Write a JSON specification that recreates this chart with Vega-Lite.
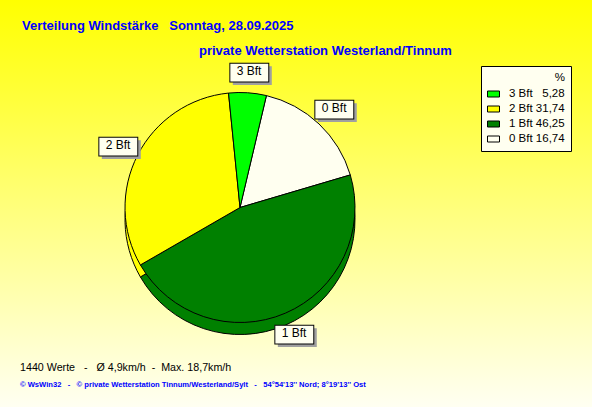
{
  "$schema": "https://vega.github.io/schema/vega-lite/v6.json",
  "padding": 0,
  "background": "#FFFF00",
  "config": {"view": {"stroke": null}, "concat": {"spacing": 0}},
  "title": {
    "text": "Verteilung Windstärke\u00a0\u00a0\u00a0Sonntag, 28.09.2025",
    "subtitle": "\u200b\u00a0\u00a0\u00a0\u00a0\u00a0\u00a0\u00a0\u00a0\u00a0\u00a0\u00a0\u00a0\u00a0\u00a0\u00a0\u00a0\u00a0\u00a0\u00a0\u00a0\u00a0\u00a0\u00a0\u00a0\u00a0\u00a0\u00a0\u00a0\u00a0\u00a0\u00a0\u00a0\u00a0\u00a0\u00a0\u00a0\u00a0\u00a0\u00a0\u00a0\u00a0\u00a0\u00a0\u00a0\u00a0\u00a0\u00a0\u00a0\u00a0private Wetterstation Westerland/Tinnum",
    "anchor": "start",
    "frame": "bounds",
    "dx": 22,
    "offset": -58,
    "font": "Liberation Sans",
    "fontSize": 13,
    "fontWeight": "bold",
    "color": "#0000FF",
    "subtitleFont": "Liberation Sans",
    "subtitleFontSize": 13,
    "subtitleFontWeight": "bold",
    "subtitleColor": "#0000FF",
    "subtitlePadding": 12
  },
  "vconcat": [
    {
      "width": 592,
      "height": 407,
      "view": {
        "stroke": null,
        "fill": {
          "gradient": "linear",
          "x1": 0, "y1": 0, "x2": 0, "y2": 1,
          "stops": [
            {"offset": 0, "color": "#FFFF00"},
            {"offset": 1, "color": "#FFFFF2"}
          ]
        }
      },
      "title": {
        "text": "1440 Werte\u00a0\u00a0\u00a0-\u00a0\u00a0\u00a0Ø 4,9km/h\u00a0\u00a0-\u00a0\u00a0Max. 18,7km/h",
        "subtitle": "© WsWin32\u00a0\u00a0\u00a0-\u00a0\u00a0\u00a0© private Wetterstation Tinnum/Westerland/Sylt\u00a0\u00a0\u00a0-\u00a0\u00a0\u00a054°54'13'' Nord; 8°19'13'' Ost",
        "orient": "bottom",
        "anchor": "start",
        "frame": "group",
        "dx": 20,
        "offset": -44,
        "font": "Liberation Sans",
        "fontSize": 10.7,
        "fontWeight": "normal",
        "color": "#000000",
        "subtitleFont": "Liberation Sans",
        "subtitleFontSize": 7.6,
        "subtitleFontWeight": "bold",
        "subtitleColor": "#0000FF",
        "subtitlePadding": 7
      },
      "data": {
        "values": [
          {"stufe": 0, "bft": "0 Bft", "prozent": 16.74, "legende": "0 Bft\u00a016,74"},
          {"stufe": 1, "bft": "1 Bft", "prozent": 46.25, "legende": "1 Bft\u00a046,25"},
          {"stufe": 2, "bft": "2 Bft", "prozent": 31.74, "legende": "2 Bft\u00a031,74"},
          {"stufe": 3, "bft": "3 Bft", "prozent": 5.28, "legende": "3 Bft\u00a0\u20075,28"}
        ]
      },
      "encoding": {
        "theta": {"field": "prozent", "type": "quantitative", "stack": true, "scale": {"range": [0.232, 6.515]}},
        "order": {"field": "stufe", "type": "quantitative", "sort": "ascending"}
      },
      "layer": [
        {
          "mark": {"type": "arc", "radius": 115, "xOffset": -56, "yOffset": 16, "stroke": "#000000", "strokeWidth": 1},
          "encoding": {
            "color": {
              "field": "legende", "type": "nominal",
              "scale": {"domain": ["3 Bft\u00a0\u20075,28", "2 Bft\u00a031,74", "1 Bft\u00a046,25", "0 Bft\u00a016,74"], "range": ["#00FF00", "#FFFF00", "#008000", "#FFFFF0"]},
              "legend": {
                "orient": "none", "legendX": 481, "legendY": 66,
                "title": "%", "titleAnchor": "end", "titleFont": "Liberation Sans", "titleFontSize": 11.5, "titleFontWeight": "normal", "titleColor": "#000000",
                "labelFont": "Liberation Sans", "labelFontSize": 11.5, "labelColor": "#000000",
                "fillColor": "#FFFFF0", "strokeColor": "#000000", "padding": 6,
                "symbolType": "M-1,-0.5H1V0.5H-1Z", "symbolSize": 144, "symbolStrokeColor": "#000000", "symbolStrokeWidth": 1,
                "labelOffset": 9, "rowPadding": 3, "titlePadding": 4
              }
            }
          }
        },
        {
          "mark": {"type": "arc", "radius": 115, "xOffset": -56, "yOffset": 4, "stroke": "#000000", "strokeWidth": 1},
          "encoding": {
            "color": {"field": "legende", "type": "nominal"}
          }
        },
        {
          "mark": {"type": "text", "radius": 137, "xOffset": -53, "yOffset": 7, "text": "▬", "font": "DejaVu Sans", "fontSize": 51, "color": "#A0A0A0"}
        },
        {
          "mark": {"type": "text", "radius": 137, "xOffset": -56, "yOffset": 4, "text": "▬", "font": "DejaVu Sans", "fontSize": 51, "fill": "#FFFFF0", "stroke": "#000000", "strokeWidth": 1}
        },
        {
          "mark": {"type": "text", "radius": 137, "xOffset": -56, "yOffset": 4, "font": "Liberation Sans", "fontSize": 12, "color": "#000000"},
          "encoding": {"text": {"field": "bft"}}
        }
      ]
    }
  ]
}
